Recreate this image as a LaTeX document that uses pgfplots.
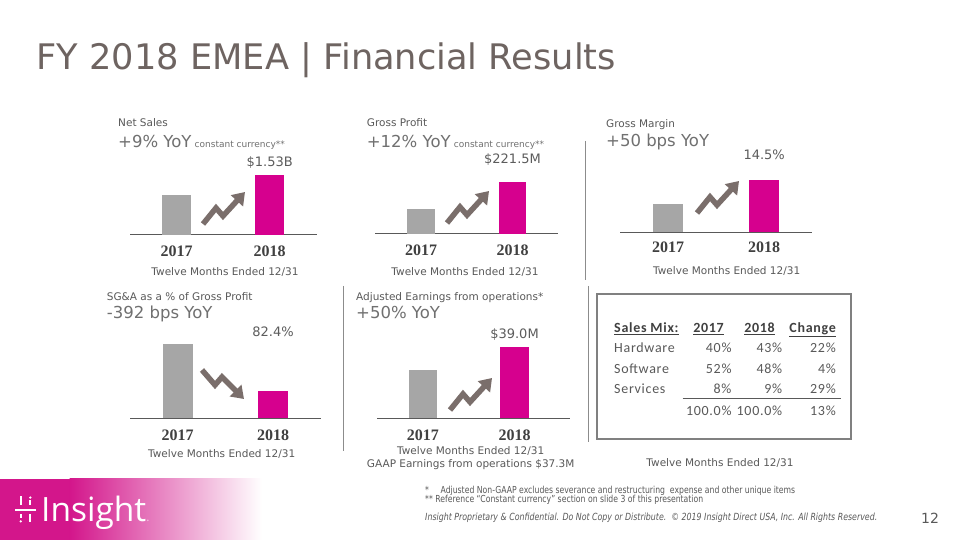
\documentclass[border=0pt]{standalone}
\usepackage{pgfplots}
\pgfplotsset{compat=1.18}
\usepackage{fontspec}
\usetikzlibrary{arrows.meta}
\setmainfont{DejaVu Sans}
\newfontfamily\condfont{DejaVu Sans}[FakeStretch=0.8]
\newfontfamily\yearfamily{Liberation Serif}
\newfontfamily\tablefont{Carlito}[LetterSpace=5]
\newfontfamily\logofont{Open Sans}

\definecolor{titlegray}{HTML}{6E6461}
\definecolor{labgray}{HTML}{595959}
\definecolor{yoygray}{HTML}{707070}
\definecolor{valgray}{HTML}{5C5C5C}
\definecolor{bargray}{HTML}{A6A6A6}
\definecolor{mag}{HTML}{D6008E}
\definecolor{arrowgray}{HTML}{7A6E6B}
\definecolor{linegray}{HTML}{595959}
\definecolor{sepgray}{HTML}{8C8C8C}
\definecolor{yeargray}{HTML}{404040}
\definecolor{logomag}{HTML}{D3168B}
\definecolor{logomid}{HTML}{E076B3}
\definecolor{boxgray}{HTML}{808080}

\pgfplotsset{minibar/.style={
  scale only axis, anchor=south west,
  ybar, bar shift=0pt,
  axis x line*=bottom, axis y line=none,
  x axis line style={-, draw=linegray, line width=1pt},
  xtick={0,1}, xticklabels={2017,2018}, major tick length=0pt,
  xticklabel style={font=\yearfamily\bfseries\fontsize{16}{18}\selectfont, text=yeargray, anchor=center, yshift=-16.5pt},
  ytick=\empty, clip mode=individual,
}}
\tikzset{
  val/.style={font=\fontsize{13}{15}\selectfont, text=valgray, anchor=center},
  hdr/.style={anchor=base west, inner sep=0pt, text=labgray, font=\fontsize{10.5}{12}\selectfont},
  yoy/.style={anchor=base west, inner sep=0pt, text=yoygray},
  twelve/.style={anchor=center, inner sep=0pt, text=labgray, font=\fontsize{10.5}{12}\selectfont},
  zz/.style={draw=arrowgray, line width=5.5pt, line join=miter, -{Triangle[length=12pt,width=16pt]}},
  tb/.style={inner sep=0pt, text=labgray, font=\tablefont\fontsize{14}{16}\selectfont},
  th/.style={inner sep=0pt, text=yeargray, font=\tablefont\bfseries\fontsize{14}{16}\selectfont},
}

\begin{document}
\begin{tikzpicture}[x=1pt,y=1pt]
\fill[white] (0,0) rectangle (960,540);
\path[use as bounding box] (0,0) rectangle (960,540);

% ---- Net Sales
\begin{axis}[minibar, at={(130pt,305pt)}, width=187pt, height=60pt, bar width=28.5pt,
  xmin=-0.499, xmax=1.507, ymin=1.14, ymax=1.53]
\addplot[fill=bargray, draw=none] coordinates {(0,1.40)};
\addplot[fill=mag, draw=none] coordinates {(1,1.53)};
\node[val, yshift=12pt] at (axis cs:1,1.53) {\$1.53B};
\end{axis}

% ---- Gross Profit
\begin{axis}[minibar, at={(375pt,306pt)}, width=183pt, height=52.3pt, bar width=27.7pt,
  xmin=-0.506, xmax=1.498, ymin=176.1, ymax=221.5]
\addplot[fill=bargray, draw=none] coordinates {(0,197.8)};
\addplot[fill=mag, draw=none] coordinates {(1,221.5)};
\node[val, yshift=21.7pt] at (axis cs:1,221.5) {\$221.5M};
\end{axis}

% ---- Gross Margin
\begin{axis}[minibar, at={(620pt,307.7pt)}, width=191.7pt, height=52.3pt, bar width=29.5pt,
  xmin=-0.499, xmax=1.494, ymin=13.42, ymax=14.5,
  xticklabel style={yshift=1.5pt}]
\addplot[fill=bargray, draw=none] coordinates {(0,14.0)};
\addplot[fill=mag, draw=none] coordinates {(1,14.5)};
\node[val, yshift=25pt] at (axis cs:1,14.5) {14.5\%};
\end{axis}

% ---- SG&A
\begin{axis}[minibar, at={(130pt,121.7pt)}, width=190.7pt, height=74pt, bar width=30.3pt,
  xmin=-0.5, xmax=1.5, ymin=80.1, ymax=86.32]
\addplot[fill=bargray, draw=none] coordinates {(0,86.32)};
\addplot[fill=mag, draw=none] coordinates {(1,82.4)};
\node[val, yshift=59.3pt] at (axis cs:1,82.4) {82.4\%};
\end{axis}

% ---- Adjusted Earnings
\begin{axis}[minibar, at={(377.3pt,121.7pt)}, width=192.7pt, height=71.7pt, bar width=28.5pt,
  xmin=-0.496, xmax=1.605, ymin=0, ymax=39.0]
\addplot[fill=bargray, draw=none] coordinates {(0,26.0)};
\addplot[fill=mag, draw=none] coordinates {(1,39.0)};
\node[val, yshift=11.7pt] at (axis cs:1,39.0) {\$39.0M};
\end{axis}

\begin{scope}[shift={(0,540)}, yscale=-1]
% title
\node[anchor=base west, inner sep=0pt, text=titlegray, font=\fontsize{35.2}{40}\selectfont] at (36.5,69.3) {FY 2018 EMEA | Financial Results};

% headers
\node[hdr] at (118,127) {Net Sales};
\node[yoy] at (118,148) {{\fontsize{16.5}{18}\selectfont +9\% YoY} {\fontsize{9}{10}\selectfont constant currency**}};
\node[hdr] at (366.7,127) {Gross Profit};
\node[yoy] at (366.7,148) {{\fontsize{16.5}{18}\selectfont +12\% YoY} {\fontsize{9}{10}\selectfont constant currency**}};
\node[hdr] at (606,128) {Gross Margin};
\node[yoy] at (606,146.5) {\fontsize{16.5}{18}\selectfont +50 bps YoY};
\node[hdr] at (106.7,300.5) {SG\&A as a \% of Gross Profit};
\node[yoy] at (106.7,319) {\fontsize{16.5}{18}\selectfont -392 bps YoY};
\node[hdr] at (356,300.5) {Adjusted Earnings from operations*};
\node[yoy] at (356,319) {\fontsize{16.5}{18}\selectfont +50\% YoY};

% twelve months
\node[twelve] at (225,272) {Twelve Months Ended 12/31};
\node[twelve] at (465,272) {Twelve Months Ended 12/31};
\node[twelve] at (726.7,270.7) {Twelve Months Ended 12/31};
\node[twelve] at (221.7,454.3) {Twelve Months Ended 12/31};
\node[twelve] at (470.7,450.7) {Twelve Months Ended 12/31};
\node[twelve] at (470.7,465) {GAAP Earnings from operations \$37.3M};
\node[twelve] at (720,463.3) {Twelve Months Ended 12/31};

% arrows
\draw[zz] (203,224) -- ++(13,-16) -- ++(7,8) -- ++(22,-24);
\draw[zz] (447,223) -- ++(13,-16) -- ++(7,8) -- ++(22,-24);
\draw[zz] (697,213) -- ++(13,-16) -- ++(7,8) -- ++(22,-24);
\draw[zz] (450,410) -- ++(13,-16) -- ++(7,8) -- ++(22,-24);
\draw[zz] (202,370) -- ++(13,15) -- ++(7,-8) -- ++(22,22);

% separators
\draw[sepgray, line width=1pt] (585,141) -- (585,280);
\draw[sepgray, line width=1pt] (343.5,286) -- (343.5,451);
\draw[sepgray, line width=1pt] (588.5,286) -- (588.5,442);

% table
\draw[boxgray, line width=2pt] (597.3,294.3) rectangle (851,439);
\node[th, anchor=base west] at (614,332.8) {\underline{Sales Mix:}};
\node[th, anchor=base east] at (724,332.8) {\underline{2017}};
\node[th, anchor=base east] at (775,332.8) {\underline{2018}};
\node[th, anchor=base east] at (836,332.8) {\underline{Change}};
\node[tb, anchor=base west] at (614,352.8) {Hardware};
\node[tb, anchor=base east] at (731.7,352.8) {40\%};
\node[tb, anchor=base east] at (782.3,352.8) {43\%};
\node[tb, anchor=base east] at (836,352.8) {22\%};
\node[tb, anchor=base west] at (614,373.5) {Software};
\node[tb, anchor=base east] at (731.7,373.5) {52\%};
\node[tb, anchor=base east] at (782.3,373.5) {48\%};
\node[tb, anchor=base east] at (836,373.5) {4\%};
\node[tb, anchor=base west] at (614,393.8) {Services};
\node[tb, anchor=base east] at (731.7,393.8) {8\%};
\node[tb, anchor=base east] at (782.3,393.8) {9\%};
\node[tb, anchor=base east] at (836,393.8) {29\%};
\draw[linegray, line width=1pt] (682.7,398.3) -- (840.7,398.3);
\node[tb, anchor=base east] at (731.7,415.2) {100.0\%};
\node[tb, anchor=base east] at (782.3,415.2) {100.0\%};
\node[tb, anchor=base east] at (836,415.2) {13\%};

% footer band
\fill[logomag] (0,479) rectangle (70,540);
\shade[left color=logomag, middle color=logomid, right color=white] (69.5,479) rectangle (262,540);
% logo icon
\fill[white] (15,508.6) rectangle (36,510.6);
\fill[white] (19.6,496.5) rectangle (21.8,505);
\fill[white] (29.2,500.5) rectangle (31.4,505);
\fill[white] (30.3,497.6) circle (1.3);
\fill[white] (19.6,514) rectangle (21.8,518.5);
\fill[white] (20.7,521.4) circle (1.3);
\fill[white] (29.2,514) rectangle (31.4,522.5);
\node[anchor=base west, inner sep=0pt, text=white, font=\logofont\fontsize{33.5}{36}\selectfont] at (41,521.5) {Insight{\color{logomid!40!white}\fontsize{12}{12}\selectfont .}};

% footnotes
\node[anchor=west, inner sep=0pt, text=labgray] at (425,490.7) {\resizebox{370pt}{!}{\condfont\fontsize{8.5}{9}\selectfont *\hspace{1.2em}Adjusted Non-GAAP excludes severance and restructuring\ \ expense and other unique items}};
\node[anchor=west, inner sep=0pt, text=labgray] at (425,500) {\resizebox{278pt}{!}{\condfont\fontsize{8.5}{9}\selectfont ** Reference “Constant currency” section on slide 3 of this presentation}};
\node[anchor=west, inner sep=0pt, text=labgray] at (425,518) {\resizebox{452pt}{!}{\condfont\itshape\fontsize{8.5}{9}\selectfont Insight Proprietary \& Confidential. Do Not Copy or Distribute.\ \ © 2019 Insight Direct USA, Inc. All Rights Reserved.}};
\node[anchor=center, inner sep=0pt, text=labgray, font=\fontsize{14}{16}\selectfont] at (930,518) {12};
\end{scope}
\end{tikzpicture}
\end{document}
